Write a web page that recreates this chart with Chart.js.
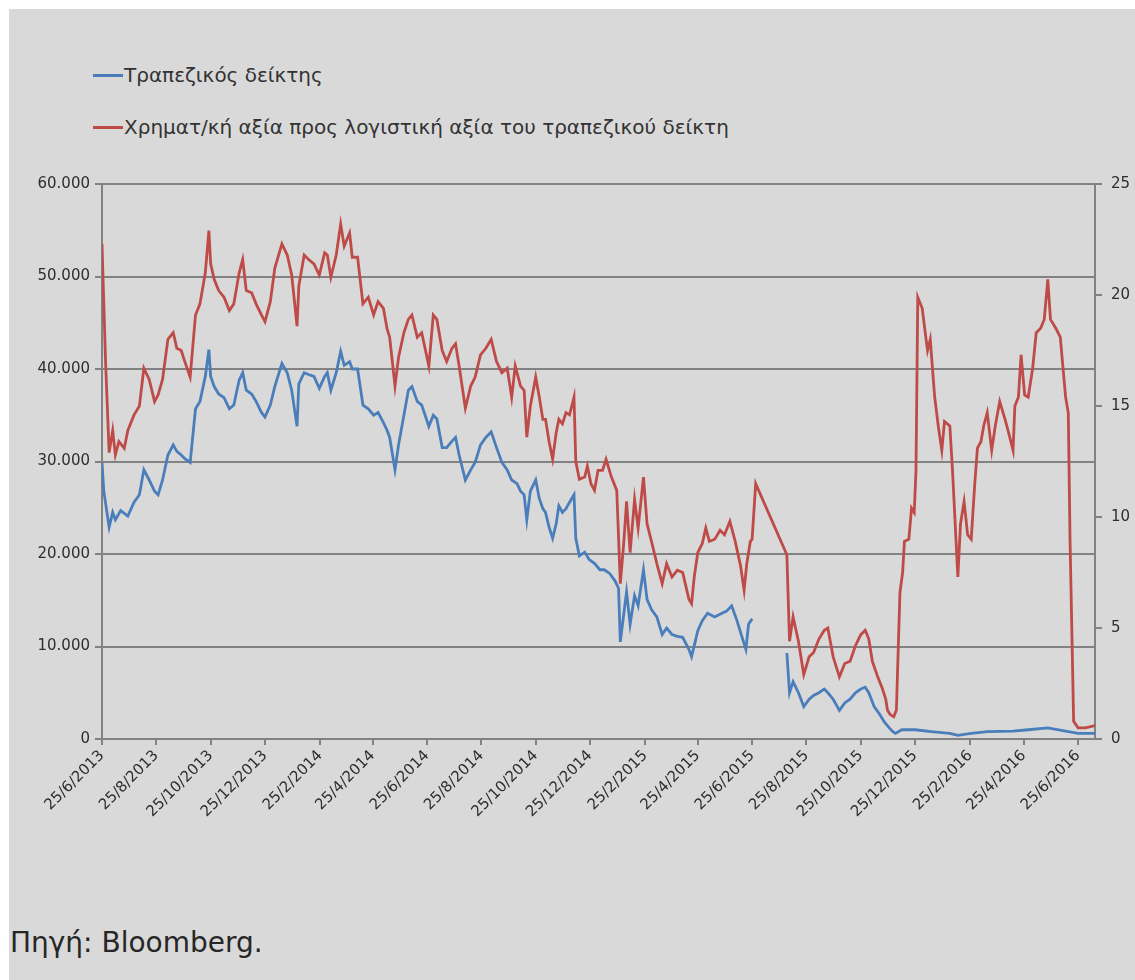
<!DOCTYPE html>
<html><head><meta charset="utf-8">
<script src="https://cdn.jsdelivr.net/npm/chart.js@4.4.1/dist/chart.umd.min.js"></script>
<style>
html,body{margin:0;padding:0;background:#fff;overflow:hidden;width:1135px;height:980px;}
#bg{position:absolute;left:9px;top:9px;right:0;bottom:0;background:#d9d9d9;}
#wrap{position:absolute;left:0;top:0;width:1160px;height:900px;}
.leg{position:absolute;left:93px;font:20px "DejaVu Sans",sans-serif;color:#333;white-space:nowrap;display:flex;align-items:center;height:24px;}
.leg i{display:inline-block;width:30px;height:3px;margin-right:1px;}
#src{position:absolute;left:10px;top:926px;font:28px "DejaVu Sans",sans-serif;color:#262626;white-space:nowrap;}
</style></head><body>
<div id="bg"></div>
<div class="leg" style="top:63px"><i style="background:#4a7ebb"></i>Τραπεζικός δείκτης</div>
<div class="leg" style="top:115px"><i style="background:#be4b48"></i>Χρηματ/κή αξία προς λογιστική αξία του τραπεζικού δείκτη</div>
<div id="wrap"><canvas id="c" width="1160" height="900"></canvas></div>
<div id="src">Πηγή: Bloomberg.</div>
<script>
// ---- DATA ----
const tickLabels = ['25/6/2013','25/8/2013','25/10/2013','25/12/2013','25/2/2014','25/4/2014','25/6/2014','25/8/2014','25/10/2014','25/12/2014','25/2/2015','25/4/2015','25/6/2015','25/8/2015','25/10/2015','25/12/2015','25/2/2016','25/4/2016','25/6/2016'];
const xStart = '2013-06-25';
const xEnd = '2016-07-14';

const bankDates = ['2013-06-25','2013-06-27','2013-07-03','2013-07-07','2013-07-10','2013-07-16','2013-07-24','2013-07-31','2013-08-06','2013-08-11','2013-08-17','2013-08-23','2013-08-27','2013-09-01','2013-09-07','2013-09-13','2013-09-17','2013-09-22','2013-09-26','2013-10-02','2013-10-08','2013-10-13','2013-10-19','2013-10-23','2013-10-25','2013-10-29','2013-11-03','2013-11-09','2013-11-15','2013-11-20','2013-11-26','2013-11-30','2013-12-04','2013-12-10','2013-12-15','2013-12-21','2013-12-25','2013-12-31','2014-01-05','2014-01-13','2014-01-19','2014-01-24','2014-01-30',
'2014-02-01','2014-02-07','2014-02-12','2014-02-18','2014-02-24','2014-03-02','2014-03-05','2014-03-09','2014-03-15','2014-03-20','2014-03-24','2014-03-30','2014-04-02','2014-04-08','2014-04-14','2014-04-20','2014-04-26','2014-05-01','2014-05-07','2014-05-11','2014-05-14','2014-05-20','2014-05-24','2014-05-30','2014-06-04','2014-06-08','2014-06-14','2014-06-19','2014-06-27','2014-07-02','2014-07-06','2014-07-12','2014-07-17','2014-07-23','2014-07-27','2014-07-31','2014-08-07','2014-08-13','2014-08-18','2014-08-24','2014-08-30','2014-09-05',
'2014-09-11','2014-09-17','2014-09-23','2014-09-28','2014-10-04','2014-10-08','2014-10-12','2014-10-15','2014-10-19','2014-10-25','2014-10-29','2014-11-02','2014-11-05','2014-11-09','2014-11-13','2014-11-17','2014-11-20','2014-11-24','2014-11-28','2014-12-02','2014-12-07','2014-12-09','2014-12-13','2014-12-19','2014-12-24','2014-12-30','2015-01-05','2015-01-10','2015-01-16','2015-01-22','2015-01-26','2015-01-28','2015-02-01','2015-02-04','2015-02-08','2015-02-13','2015-02-17','2015-02-23','2015-02-27','2015-03-04','2015-03-10','2015-03-16','2015-03-21','2015-03-27','2015-04-02','2015-04-08','2015-04-15','2015-04-18',
'2015-04-21','2015-04-25','2015-04-30','2015-05-06','2015-05-14','2015-05-22','2015-05-27','2015-06-02','2015-06-08','2015-06-14','2015-06-18','2015-06-21','2015-06-25','2015-07-15','2015-08-03','2015-08-06','2015-08-10','2015-08-16','2015-08-22','2015-08-28','2015-09-02','2015-09-08','2015-09-14','2015-09-18','2015-09-24','2015-10-01','2015-10-07','2015-10-13','2015-10-19','2015-10-25','2015-10-30','2015-11-03','2015-11-09','2015-11-15','2015-11-20','2015-11-26','2015-11-30','2015-12-03','2015-12-10','2015-12-25','2016-01-12','2016-02-02','2016-02-11','2016-02-26','2016-03-15','2016-04-13','2016-04-30','2016-05-22','2016-06-11','2016-06-25','2016-07-14'];
const bankIndex = [29900,26800,22900,24500,23700,24700,24100,25600,26400,29100,28000,26800,26400,28000,30700,31800,31100,30700,30300,29900,35700,36500,39200,42100,39200,38100,37300,36900,35700,36100,38800,39600,37700,37300,36500,35300,34800,36100,38100,40600,39600,37700,33800,
38400,39600,39400,39200,37900,39200,39600,37700,39600,41900,40400,40800,40000,40000,36100,35700,35000,35300,34200,33400,32600,29100,31800,35000,37700,38100,36500,36100,33800,35000,34600,31500,31500,32200,32600,30700,28000,29100,29900,31800,32600,33200,
31500,29900,29100,28000,27600,26800,26400,23700,26800,28000,26000,24900,24500,22900,21700,23300,25200,24500,24900,25600,26400,21700,19800,20200,19400,19000,18300,18300,17900,17100,16300,10500,13600,15900,12400,15500,14400,18300,15100,14000,13200,11300,12000,11300,11100,11000,9700,8900,
10100,11700,12800,13600,13200,13600,13800,14400,12800,10900,9700,12400,13000,null,9300,5000,6200,5000,3500,4300,4700,5000,5400,5000,4300,3100,3900,4300,5000,5400,5600,5000,3500,2700,1900,1200,800,600,1000,1000,800,600,400,600,800,850,1000,1200,850,600,600];

const pbDates = ['2013-06-25','2013-06-29','2013-07-03','2013-07-07','2013-07-10','2013-07-14','2013-07-20','2013-07-24','2013-07-31','2013-08-06','2013-08-11','2013-08-17','2013-08-23','2013-08-27','2013-09-01','2013-09-07','2013-09-13','2013-09-17','2013-09-22','2013-09-26','2013-10-02','2013-10-08','2013-10-13','2013-10-19','2013-10-23','2013-10-25','2013-10-29','2013-11-03','2013-11-09','2013-11-15','2013-11-20','2013-11-26','2013-11-30','2013-12-04','2013-12-10','2013-12-15','2013-12-21','2013-12-25','2013-12-31','2014-01-05','2014-01-13','2014-01-19','2014-01-24','2014-01-30',
'2014-02-01','2014-02-07','2014-02-12','2014-02-18','2014-02-24','2014-03-02','2014-03-05','2014-03-09','2014-03-15','2014-03-20','2014-03-24','2014-03-30','2014-04-02','2014-04-08','2014-04-14','2014-04-20','2014-04-26','2014-05-01','2014-05-07','2014-05-11','2014-05-14','2014-05-20','2014-05-24','2014-05-30','2014-06-04','2014-06-08','2014-06-14','2014-06-19','2014-06-27','2014-07-02','2014-07-06','2014-07-12','2014-07-17','2014-07-23','2014-07-27','2014-07-31','2014-08-07','2014-08-13','2014-08-18','2014-08-24','2014-08-30',
'2014-09-05','2014-09-11','2014-09-17','2014-09-23','2014-09-28','2014-10-02','2014-10-08','2014-10-12','2014-10-15','2014-10-19','2014-10-25','2014-10-29','2014-11-02','2014-11-05','2014-11-09','2014-11-13','2014-11-17','2014-11-20','2014-11-24','2014-11-28','2014-12-02','2014-12-07','2014-12-09','2014-12-13','2014-12-19','2014-12-22','2014-12-26','2014-12-30','2015-01-03','2015-01-08','2015-01-12','2015-01-18','2015-01-24','2015-01-28','2015-02-01','2015-02-04','2015-02-08','2015-02-13','2015-02-17','2015-02-23','2015-02-27','2015-03-04','2015-03-10','2015-03-16','2015-03-21','2015-03-27','2015-04-02','2015-04-08','2015-04-15','2015-04-18',
'2015-04-21','2015-04-25','2015-04-30','2015-05-04','2015-05-08','2015-05-14','2015-05-20','2015-05-25','2015-05-31','2015-06-06','2015-06-12','2015-06-16','2015-06-19','2015-06-23','2015-06-25','2015-06-29','2015-08-03','2015-08-06','2015-08-10','2015-08-16','2015-08-22','2015-08-28','2015-09-02','2015-09-08','2015-09-14','2015-09-18','2015-09-24','2015-10-01','2015-10-07','2015-10-13','2015-10-19','2015-10-25','2015-10-30','2015-11-03','2015-11-07','2015-11-13','2015-11-18','2015-11-22','2015-11-24','2015-11-27','2015-12-01','2015-12-04',
'2015-12-06','2015-12-08','2015-12-11','2015-12-13','2015-12-18','2015-12-21','2015-12-24','2015-12-26','2015-12-28','2016-01-02','2016-01-06','2016-01-08','2016-01-11','2016-01-16','2016-01-20','2016-01-24','2016-01-27','2016-02-02','2016-02-05','2016-02-09','2016-02-11','2016-02-14','2016-02-18','2016-02-22','2016-02-26','2016-03-01','2016-03-04','2016-03-08','2016-03-11','2016-03-15','2016-03-20','2016-03-24','2016-03-29','2016-04-04','2016-04-08','2016-04-13','2016-04-15','2016-04-19','2016-04-22','2016-04-26','2016-04-30','2016-05-05','2016-05-09','2016-05-14','2016-05-18','2016-05-22','2016-05-25','2016-05-31','2016-06-05','2016-06-11','2016-06-14','2016-06-16','2016-06-18','2016-06-20','2016-06-25','2016-07-03','2016-07-14'];
const priceToBook = [22.3,17.0,12.9,13.9,12.8,13.4,13.1,13.9,14.6,15.0,16.7,16.2,15.2,15.5,16.2,18.0,18.3,17.6,17.5,17.0,16.3,19.1,19.6,21.0,22.9,21.4,20.7,20.2,19.9,19.3,19.6,21.0,21.6,20.2,20.1,19.6,19.1,18.8,19.7,21.2,22.3,21.8,20.9,18.6,
20.4,21.8,21.6,21.4,20.9,21.9,21.8,20.8,21.8,23.2,22.2,22.8,21.7,21.7,19.6,19.9,19.1,19.7,19.4,18.5,18.1,15.9,17.2,18.3,18.9,19.1,18.1,18.3,16.8,19.1,18.9,17.5,17.0,17.6,17.8,16.8,14.9,15.9,16.3,17.3,17.6,
18.0,17.0,16.5,16.7,15.4,16.8,15.9,15.7,13.6,15.0,16.3,15.4,14.4,14.4,13.4,12.6,13.8,14.4,14.2,14.7,14.6,15.4,12.5,11.7,11.8,12.3,11.5,11.2,12.1,12.1,12.6,11.8,11.2,7.0,8.9,10.7,8.4,10.8,9.5,11.8,9.7,8.9,7.9,7.0,7.9,7.3,7.6,7.5,6.3,6.1,
7.3,8.4,8.8,9.5,8.9,9.0,9.4,9.2,9.8,8.9,7.8,6.7,7.9,8.9,9.0,11.5,8.3,4.4,5.5,4.4,2.9,3.7,3.9,4.5,4.9,5.0,3.7,2.8,3.4,3.5,4.2,4.7,4.9,4.5,3.5,2.8,2.3,1.8,1.3,1.1,1.0,1.3,
4.0,6.6,7.5,8.9,9.0,10.4,10.2,12.1,19.9,19.4,18.1,17.5,18.0,15.4,14.1,13.0,14.3,14.1,12.1,8.9,7.3,9.7,10.7,9.2,9.0,11.5,13.1,13.4,14.1,14.7,13.0,14.1,15.2,14.4,13.8,13.0,15.0,15.4,17.3,15.5,15.4,16.7,18.3,18.5,18.9,20.7,18.9,18.5,18.1,15.4,14.7,8.9,4.9,0.8,0.5,0.5,0.6];

// ---- helpers ----
const toMs = s => { const p = s.split('-').map(Number); return Date.UTC(p[0], p[1]-1, p[2]); };
const tickMs = tickLabels.map(l => { const p = l.split('/').map(Number); return Date.UTC(p[2], p[1]-1, p[0]); });
const fmtThousands = v => v === 0 ? '0' : String(v).replace(/\B(?=(\d{3})+(?!\d))/g, '.');

const tickFont = {family: '"DejaVu Sans", sans-serif', size: 15};
const tickColor = '#2e2e2e';
const axisGray = '#828282';

new Chart(document.getElementById('c'), {
  type: 'line',
  data: {
    datasets: [
      {label: 'Τραπεζικός δείκτης', data: bankDates.map((d, i) => ({x: toMs(d), y: bankIndex[i]})),
       yAxisID: 'yL', borderColor: '#4a7ebb', borderWidth: 2.8, pointRadius: 0, tension: 0, spanGaps: false},
      {label: 'Χρηματ/κή αξία προς λογιστική αξία του τραπεζικού δείκτη', data: pbDates.map((d, i) => ({x: toMs(d), y: priceToBook[i]})),
       yAxisID: 'yR', borderColor: '#be4b48', borderWidth: 2.8, pointRadius: 0, tension: 0}
    ]
  },
  options: {
    responsive: false, animation: false, devicePixelRatio: 1,
    layout: {padding: {top: 184, left: 0, right: 0, bottom: 0}},
    plugins: {legend: {display: false}, tooltip: {enabled: false}},
    scales: {
      x: {
        type: 'linear', min: toMs(xStart), max: toMs(xEnd),
        afterBuildTicks: s => { s.ticks = tickMs.map(v => ({value: v})); },
        afterFit: s => { s.height = 900 - 739; },
        ticks: {autoSkip: false, minRotation: 45, maxRotation: 45, padding: 2, font: tickFont, color: tickColor,
                callback: (v, i) => tickLabels[i]},
        grid: {drawOnChartArea: false, drawTicks: true, tickLength: 6, color: axisGray, lineWidth: 2},
        border: {display: true, color: axisGray, width: 2}
      },
      yL: {
        position: 'left', min: 0, max: 60000,
        afterFit: s => { s.width = 102; },
        ticks: {stepSize: 10000, padding: 5, font: tickFont, color: tickColor, callback: v => fmtThousands(v)},
        grid: {color: axisGray, lineWidth: 2, tickLength: 7},
        border: {display: true, color: axisGray, width: 2}
      },
      yR: {
        position: 'right', min: 0, max: 25,
        afterFit: s => { s.width = 1160 - 1095; },
        ticks: {stepSize: 5, padding: 9, font: tickFont, color: tickColor},
        grid: {drawOnChartArea: false, tickLength: 7, color: axisGray, lineWidth: 2},
        border: {display: true, color: axisGray, width: 2}
      }
    }
  }
});
</script>
</body></html>
